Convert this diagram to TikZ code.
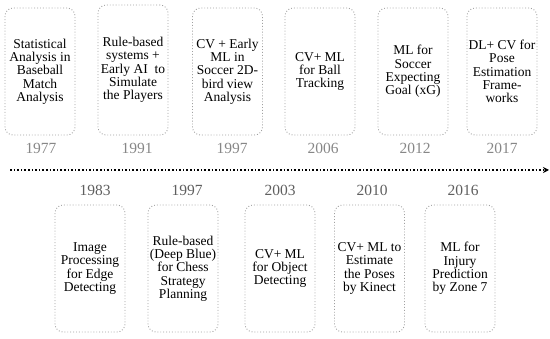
\documentclass[tikz,border=0pt]{standalone}
\usepackage{fontspec}
\setmainfont{Liberation Serif}
\usetikzlibrary{arrows.meta}
\definecolor{yrtop}{RGB}{135,135,135}
\definecolor{yrbot}{RGB}{95,95,95}
\definecolor{boxline}{RGB}{160,160,160}
\tikzset{
  evbox/.style={draw=boxline, dotted, line width=0.9pt, rounded corners=8pt,
    minimum width=70pt, minimum height=127pt, align=center,
    inner sep=1pt, font=\fontsize{13.5}{13.3}\selectfont},
  yrtoplbl/.style={text=yrtop, font=\fontsize{15.5}{16}\selectfont, inner sep=0pt},
  yrbotlbl/.style={text=yrbot, font=\fontsize{15.5}{16}\selectfont, inner sep=0pt},
}
\begin{document}
\begin{tikzpicture}[x=1pt,y=-1pt]
\useasboundingbox (0,0) rectangle (550,339);
% top row
\node[evbox] (t1) at (40,71.5) {Statistical\\Analysis in\\Baseball\\Match\\Analysis};
\node[evbox, minimum height=130pt] (t2) at (133,70) {Rule-based\\systems +\\Early AI\ \ to\\Simulate\\the Players};
\node[evbox] (t3) at (227.5,71.5) {CV + Early\\ML in\\Soccer 2D-\\bird view\\Analysis};
\node[evbox] (t4) at (320,71.5) {CV+ ML\\for Ball\\Tracking};
\node[evbox] (t5) at (413,71.5) {ML for\\Soccer\\Expecting\\Goal (xG)};
\node[evbox] (t6) at (502,71.5) {DL+ CV for\\Pose\\Estimation\\Frame-\\works};
\node[yrtoplbl] (y1) at (41,148) {1977};
\node[yrtoplbl] (y2) at (137,148) {1991};
\node[yrtoplbl] (y3) at (232,148) {1997};
\node[yrtoplbl] (y4) at (323,148) {2006};
\node[yrtoplbl] (y5) at (415,148) {2012};
\node[yrtoplbl] (y6) at (502,148) {2017};
% timeline
\coordinate (ls) at (10,170);
\coordinate (le) at (549,170);
\draw[dotted, line width=1.6pt, -{Stealth[length=6pt,width=6pt]}] (ls) -- (le);
% bottom row
\node[yrbotlbl] (b1y) at (95,190) {1983};
\node[yrbotlbl] (b2y) at (187,190) {1997};
\node[yrbotlbl] (b3y) at (280,190) {2003};
\node[yrbotlbl] (b4y) at (372,190) {2010};
\node[yrbotlbl] (b5y) at (463,190) {2016};
\node[evbox] (b1) at (90,268.5) {Image\\Processing\\for Edge\\Detecting};
\node[evbox] (b2) at (183,268.5) {Rule-based\\(Deep Blue)\\for Chess\\Strategy\\Planning};
\node[evbox] (b3) at (280,268.5) {CV+ ML\\for Object\\Detecting};
\node[evbox] (b4) at (369.5,268.5) {CV+ ML to\\Estimate\\the Poses\\by Kinect};
\node[evbox] (b5) at (460,268.5) {ML for\\Injury\\Prediction\\by Zone 7};
\end{tikzpicture}
\end{document}
